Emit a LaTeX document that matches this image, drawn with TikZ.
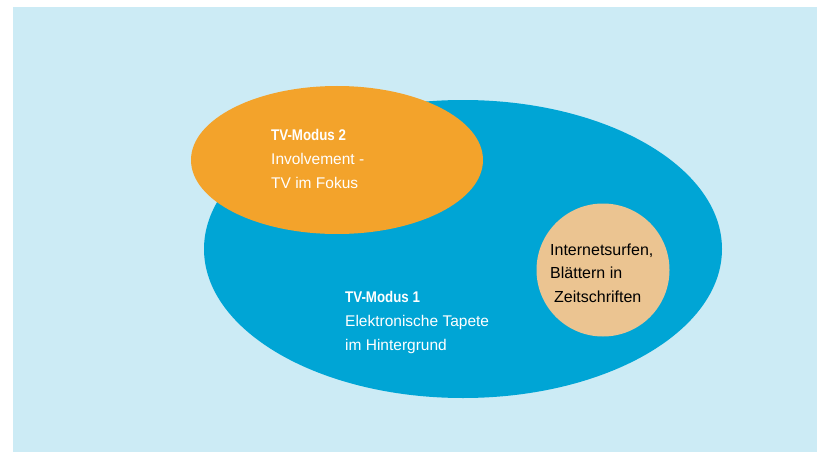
\documentclass[tikz,border=0pt]{standalone}
\usepackage{fontspec}
\setmainfont{Liberation Sans}
\newfontfamily\condbold[FakeStretch=0.86]{Liberation Sans Bold}
\definecolor{bgblue}{HTML}{CCEBF5}
\definecolor{mainblue}{HTML}{00A5D5}
\definecolor{modeorange}{HTML}{F3A32B}
\definecolor{tan}{HTML}{EBC491}
\begin{document}
\begin{tikzpicture}[x=1pt,y=-1pt,
  lbl/.style={anchor=base west,inner sep=0pt,align=left,text=white,
    font=\fontsize{15.5}{24}\selectfont},
  dark/.style={anchor=base west,inner sep=0pt,align=left,text=black,
    font=\fontsize{16}{23.5}\selectfont}]
\useasboundingbox (0,0) rectangle (817,452);
\fill[bgblue] (13,7) rectangle (817,452);
\fill[mainblue] (463,249) ellipse [x radius=259, y radius=149];
\fill[modeorange] (337,160) ellipse [x radius=146, y radius=74];
\fill[tan] (603,270) circle [radius=66.5];
\node[lbl] (m2) at (271,188) {{\condbold TV-Modus 2}\\Involvement -\\TV im Fokus};
\node[lbl] (m1) at (345,350) {{\condbold TV-Modus 1}\\Elektronische Tapete\\im Hintergrund};
\node[dark] (c) at (550,302) {Internetsurfen,\\Blättern in\\\hspace*{4pt}Zeitschriften};
\end{tikzpicture}
\end{document}
